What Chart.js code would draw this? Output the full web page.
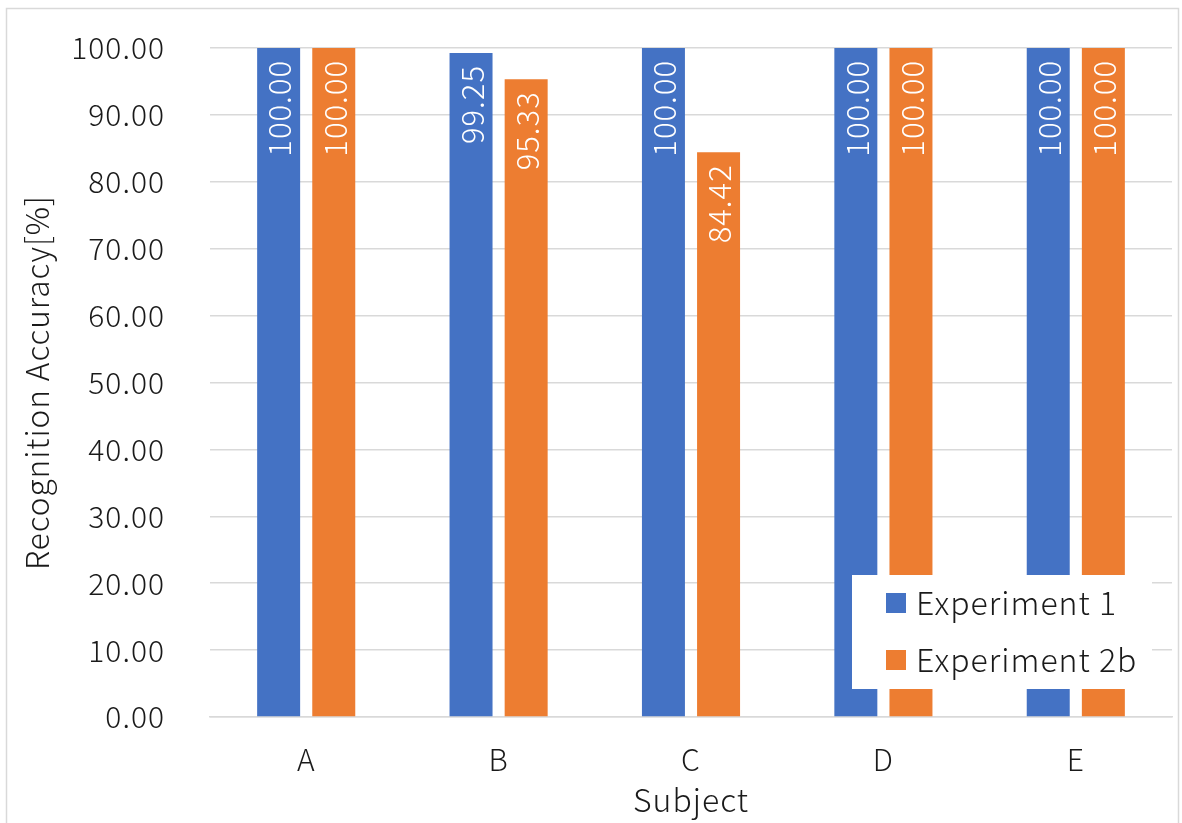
<!DOCTYPE html>
<html>
<head>
<meta charset="utf-8">
<script src="https://cdn.jsdelivr.net/npm/chart.js@4/dist/chart.umd.min.js"></script>
<style>
  html, body { margin: 0; padding: 0; background: #fff; }
  #wrap { width: 1182px; height: 823px; position: relative; }
</style>
</head>
<body>
<div id="wrap"><canvas id="chart" width="1182" height="823"></canvas></div>
<script>
// Chart data
let subjects = ["A", "B", "C", "D", "E"];
let experiment1 = [100.00, 99.25, 100.00, 100.00, 100.00];
let experiment2b = [100.00, 95.33, 84.42, 100.00, 100.00];
let seriesNames = ["Experiment 1", "Experiment 2b"];
let yTicks = [0, 10, 20, 30, 40, 50, 60, 70, 80, 90, 100];

let FONT = "'Noto Sans CJK JP', 'Noto Sans', sans-serif";
let TEXT = "#1a1a1a";
let colors = ["#4472C4", "#ED7D31"];

// Outer frame of the chart, and a little wider letter spacing for all text
let framePlugin = {
  id: "frame",
  beforeDraw(chart){
    let ctx = chart.ctx;
    ctx.letterSpacing = "1px";
    ctx.save();
    ctx.fillStyle = "#fff";
    ctx.fillRect(0, 0, chart.width, chart.height);
    ctx.strokeStyle = "#d9d9d9";
    ctx.lineWidth = 1.5;
    ctx.strokeRect(6.5, 8.5, chart.width - 10, chart.height - 6);
    ctx.restore();
  }
};

// Rotated value labels inside the top of each bar
let valueLabels = {
  id: "valueLabels",
  afterDatasetsDraw(chart){
    let ctx = chart.ctx;
    ctx.save();
    ctx.font = "300 31px " + FONT;
    ctx.fillStyle = "#fff";
    ctx.textAlign = "right";
    ctx.textBaseline = "middle";
    chart.data.datasets.forEach((ds, i) => {
      chart.getDatasetMeta(i).data.forEach((bar, j) => {
        ctx.save();
        ctx.translate(bar.x, bar.y + 12);
        ctx.rotate(-Math.PI / 2);
        ctx.fillText(ds.data[j].toFixed(2), 0, 1);
        ctx.restore();
      });
    });
    ctx.restore();
  }
};

// Legend box drawn over the plot area
let boxLegend = {
  id: "boxLegend",
  afterDraw(chart){
    let ctx = chart.ctx;
    ctx.save();
    ctx.fillStyle = "#fff";
    ctx.fillRect(852, 575, 300, 114);
    ctx.font = "300 32px " + FONT;
    ctx.textBaseline = "middle";
    ctx.textAlign = "left";
    chart.data.datasets.forEach((ds, i) => {
      let y = 603 + i * 57;
      ctx.fillStyle = ds.backgroundColor;
      ctx.fillRect(886, y - 10, 20, 20);
      ctx.fillStyle = TEXT;
      ctx.fillText(ds.label, 916, y);
    });
    ctx.restore();
  }
};

let chart = new Chart(document.getElementById("chart").getContext("2d"), {
  type: "bar",
  data: {
    labels: subjects,
    datasets: [
      { label: seriesNames[0], data: experiment1, backgroundColor: colors[0] },
      { label: seriesNames[1], data: experiment2b, backgroundColor: colors[1] }
    ]
  },
  options: {
    responsive: false,
    animation: false,
    layout: { padding: { left: 6, right: 10, top: 48, bottom: 6 } },
    datasets: { bar: { categoryPercentage: 0.573, barPercentage: 0.78 } },
    plugins: {
      legend: { display: false },
      tooltip: { enabled: false }
    },
    scales: {
      x: {
        grid: { display: false, drawTicks: false },
        border: { color: "#d9d9d9", width: 1.5 },
        ticks: { color: TEXT, font: { family: FONT, size: 30, weight: 300 }, padding: 25 },
        title: { display: true, text: "Subject", color: TEXT, font: { family: FONT, size: 32, weight: 300 }, padding: { top: 0, bottom: -2 } },
        afterFit(scale){
          scale.height = 823 - 717 - 6;
          scale.paddingLeft = 0;
          scale.paddingRight = 0;
        }
      },
      y: {
        min: 0,
        max: 100,
        afterBuildTicks(scale){ scale.ticks = yTicks.map(v => ({ value: v })); },
        grid: { color: "#d9d9d9", lineWidth: 1.5, drawTicks: false },
        border: { display: false },
        ticks: {
          color: TEXT,
          font: { family: FONT, size: 30, weight: 300 },
          padding: 45,
          callback: (v) => Number(v).toFixed(2)
        },
        title: { display: true, text: "Recognition Accuracy[%]", color: TEXT, font: { family: FONT, size: 31.5, weight: 300 }, padding: 12 },
        afterFit(scale){
          scale.width = 210 - 6;
          scale.paddingTop = 0;
          scale.paddingBottom = 0;
        }
      }
    }
  },
  plugins: [framePlugin, valueLabels, boxLegend]
});
</script>
</body>
</html>
